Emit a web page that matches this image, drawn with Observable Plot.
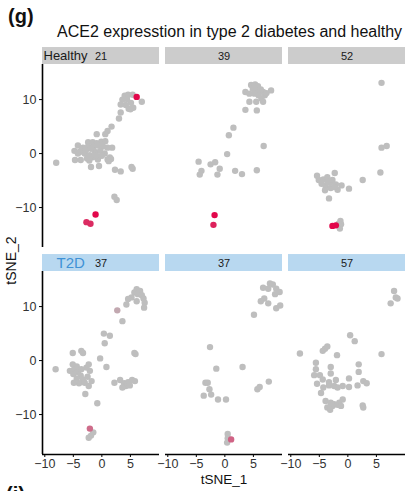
<!DOCTYPE html>
<html>
<head>
<meta charset="utf-8">
<script src="https://cdn.jsdelivr.net/npm/d3@7"></script>
<script src="https://cdn.jsdelivr.net/npm/@observablehq/plot@0.6"></script>
<style>
  body { margin: 0; background: #fff; font-family: "Liberation Sans", Arial, sans-serif; }
  #wrap { position: relative; width: 409px; height: 491px; overflow: hidden; background: #fff; }
  #chart { position: absolute; left: 0; top: 0; }
  #tag { position: absolute; left: 8px; top: 6px; font-size: 20px; line-height: 20px; font-weight: bold; color: #111; z-index: 2; }
  #title { position: absolute; left: 57px; top: 24px; font-size: 16px; line-height: 16px; color: #111; white-space: nowrap; z-index: 2; }
  #next { position: absolute; left: 6px; top: 484px; font-size: 20px; line-height: 20px; font-weight: bold; color: #111; z-index: 2; }
</style>
</head>
<body>
<div id="wrap">
  <div id="tag">(g)</div>
  <div id="title">ACE2 expresstion in type 2 diabetes and healthy</div>
  <div id="chart"></div>
  <div id="next">(i)</div>
</div>
<script>
// ---- facets ----
const cols = [1, 2, 3];
const groups = ["Healthy", "T2D"];
const healthyIds = ["21", "39", "52"];
const t2dIds = ["37", "37", "57"];
const xTicks = [-10, -5, 0, 5];
const yTicks = [-10, 0, 10];

// ---- grey cells [tSNE_1, tSNE_2] ----
const healthy21 = [
  [4.0,10.7],[4.6,10.9],[5.4,10.9],[7.0,9.6],[3.6,10.0],[4.4,10.1],[5.1,9.4],[3.3,9.1],[4.2,9.0],[4.7,8.3],
  [5.5,8.5],[5.0,8.2],[3.3,7.6],[3.0,6.5],[1.7,5.0],[1.0,4.2],[0.6,3.6],
  [-0.9,3.6],[-2.4,2.1],[-1.6,2.1],[-0.9,1.9],[-0.1,2.2],[0.6,2.3],[-4.2,1.5],[-3.3,1.1],[-2.4,1.3],
  [-1.5,1.1],[-0.7,1.5],[0.2,1.3],[1.0,1.1],[1.8,1.1],[-4.8,0.5],[-3.9,0.3],[-3.0,0.0],[-2.1,-0.3],
  [-1.2,0.3],[-0.3,0.5],[0.5,0.0],[1.4,-0.7],[-4.7,-1.2],[-3.7,-1.2],[-2.6,-0.9],[-1.6,-0.7],[-0.7,-1.1],
  [1.0,-1.1],[1.6,-1.0],[-8.0,-1.7],[-1.9,-2.5],[-0.5,-2.3],[2.3,-3.0],[3.3,-3.3],[5.2,-2.5],[5.4,-2.8],
  [2.2,-8.0],[2.6,-8.6],[-3.5,0.8],[-2.8,0.6],[-1.9,0.9],[-1.0,-0.3],[0.0,-0.4],[1.2,-1.4],[-4.2,0.0],[-2.2,-1.3]
];
const healthy39 = [
  [4.6,12.7],[5.3,12.8],[5.8,12.5],[4.9,12.0],[5.7,11.7],[6.3,11.9],[6.7,11.4],[3.6,11.4],[4.3,11.1],[5.2,11.1],
  [5.9,10.8],[7.0,10.8],[7.3,11.2],[8.1,11.7],[6.4,10.2],[5.5,9.6],[4.3,9.6],[6.7,9.6],[3.6,8.1],[5.6,8.0],
  [1.5,4.8],[0.7,3.4],[6.8,1.4],[0.4,-0.1],[-4.6,-1.5],[-4.1,-3.2],[-4.4,-3.9],[-2.5,-2.0],[-1.7,-1.6],
  [-0.9,-2.8],[-1.3,-3.9],[1.8,-3.2],[3.0,-3.8],[5.6,-3.1]
];
const healthy52 = [
  [5.9,13.1],[5.9,1.1],[6.8,1.4],[5.7,-3.5],[2.6,-4.9],[-2.3,-3.6],[-5.4,-4.1],[-5.1,-4.9],
  [-4.3,-4.8],[-3.6,-4.4],[-2.7,-4.9],[-3.1,-5.4],[-2.1,-5.7],[-1.1,-5.9],[-3.9,-6.0],[-3.0,-6.4],
  [-1.8,-6.7],[-4.0,-6.8],[0.2,-6.5],[-3.3,-8.3],[-3.5,-5.2],[-2.4,-6.2],[-4.6,-5.6],
  [-1.3,-12.5],[-1.2,-13.1],[-1.4,-13.9],[-1.6,-13.0]
];
const t2d37a = [
  [6.1,13.2],[6.7,12.9],[5.7,12.6],[6.3,12.3],[7.0,12.1],[5.2,11.7],[7.3,11.5],[4.6,11.4],[7.5,10.7],[6.1,11.0],
  [4.3,10.4],[7.4,9.8],[3.6,7.3],[0.35,5.0],[1.4,4.6],[0.5,3.2],[-3.6,1.8],[-5.1,1.4],[-3.3,1.4],[-0.3,0.4],
  [5.7,1.4],[5.9,1.2],[-8.1,-1.6],[0.8,-1.2],
  [-5.1,-0.7],[-4.4,-1.1],[-4.9,-1.7],[-4.2,-2.1],[-5.0,-2.5],[-3.7,-2.8],[-4.4,-3.3],[-3.3,-3.5],[-2.5,-3.0],
  [-2.1,-1.9],[-2.7,-1.3],[-3.6,-1.6],[-4.0,-4.2],[-3.0,-4.1],[-2.3,-4.7],[-1.8,-3.8],[-2.9,-6.2],[-4.9,-4.1],
  [-5.6,-1.9],[-2.3,-0.7],
  [2.2,-4.1],[3.2,-3.6],[3.9,-4.2],[4.6,-4.0],[5.3,-3.6],[5.8,-3.8],[4.2,-4.7],[4.9,-4.6],[3.6,-5.0],
  [-0.8,-7.9],[-1.5,-13.3],[-1.9,-13.9],[-2.3,-14.3]
];
const t2d37b = [
  [7.9,14.3],[8.4,14.1],[6.7,13.5],[7.6,13.3],[9.0,13.3],[9.6,12.7],[8.8,12.3],[6.9,11.5],[6.3,11.0],[7.6,10.6],
  [9.0,9.7],[9.7,10.2],[5.1,8.5],[-2.6,2.5],[-1.5,-1.5],[3.1,-1.2],[-3.4,-4.1],[-3.0,-4.1],[-2.7,-5.3],
  [-3.7,-6.5],[-2.4,-6.3],[-1.2,-7.2],[0.2,-7.2],[5.7,-5.3],[6.1,-4.9],[7.7,-3.9],
  [0.5,-13.6],[0.5,-14.4],[0.4,-15.2]
];
const t2d57 = [
  [8.1,12.9],[8.4,11.7],[8.7,11.5],[7.5,10.6],[0.4,4.7],[1.2,3.6],[-4.4,1.8],[-4.0,2.2],[-3.6,2.6],[-8.4,1.3],
  [-1.9,1.0],[5.9,1.2],[-5.6,-0.4],[-3.0,-1.2],[1.9,-0.7],[-5.6,-1.6],[-3.0,-2.4],[1.9,-2.1],[-5.9,-2.7],
  [-4.9,-2.7],[-4.4,-3.5],[-5.4,-4.3],[-3.3,-4.0],[-2.1,-3.6],[-0.9,-4.7],[0.2,-3.3],[2.7,-3.8],[3.3,-4.2],
  [1.7,-4.6],[0.2,-4.9],[-3.3,-4.6],[-2.4,-4.7],[-1.8,-5.0],[-4.7,-6.0],[-3.9,-7.5],[-3.0,-7.8],[-2.4,-8.1],
  [-1.5,-7.8],[-0.9,-7.2],[-3.6,-8.7],[-2.7,-8.4],[-1.8,-8.2],[-1.2,-8.4],[-3.1,-9.1],[2.6,-8.3],[2.7,-8.7],[-4.3,-5.0]
];

// ---- ACE2-expressing cells [tSNE_1, tSNE_2, relative expression] ----
const healthy21Ace2 = [[6.1,10.5,1.0],[-1.1,-11.3,1.0],[-2.7,-12.7,0.8],[-2.0,-13.0,0.8]];
const healthy39Ace2 = [[-1.8,-11.4,1.0],[-2.0,-13.2,0.85]];
const healthy52Ace2 = [[-2.7,-13.4,1.0],[-2.1,-13.3,1.0]];
const t2d37aAce2 = [[2.7,9.3,0.12],[-2.1,-12.6,0.45]];
const t2d37bAce2 = [[1.1,-14.6,0.5]];
const t2d57Ace2 = [];

const panels = [
  ["Healthy", 1, healthy21, healthy21Ace2],
  ["Healthy", 2, healthy39, healthy39Ace2],
  ["Healthy", 3, healthy52, healthy52Ace2],
  ["T2D", 1, t2d37a, t2d37aAce2],
  ["T2D", 2, t2d37b, t2d37bAce2],
  ["T2D", 3, t2d57, t2d57Ace2]
];
const cells = [];
for (const [group, col, grey] of panels) for (const [x, y] of grey) cells.push({group, col, x, y, expr: 0});
for (const [group, col, , ace] of panels) for (const [x, y, e] of ace) cells.push({group, col, x, y, expr: e});

const strips = groups.flatMap(g => cols.map((c, i) => ({group: g, col: c, id: (g === "Healthy" ? healthyIds : t2dIds)[i]})));
const xDomain = [-10.4, 10.1];
const yDomain = [-17.4, 16.5];
const stripTop = yDomain[1] + 17 / 5.41;
const stripMid = yDomain[1] + 8.5 / 5.41;
const fmt = d => d < 0 ? "\u2212" + Math.abs(d) : String(d);

const chart = Plot.plot({
  width: 409,
  height: 491,
  marginLeft: 41,
  marginRight: 4,
  marginTop: 64,
  marginBottom: 36,
  style: {fontFamily: "'Liberation Sans', Arial, sans-serif", background: "white", color: "black"},
  fx: {domain: cols, paddingInner: 0.05, axis: null},
  fy: {domain: groups, paddingInner: 0.1157, axis: null},
  x: {domain: xDomain},
  y: {domain: yDomain},
  color: {type: "linear", domain: [0, 1], range: ["#bebebe", "#e2074b"]},
  marks: [
    Plot.rect(strips.filter(d => d.group === "Healthy"), {fx: "col", fy: "group", x1: xDomain[0], x2: xDomain[1], y1: yDomain[1], y2: stripTop, fill: "#cccccc"}),
    Plot.rect(strips.filter(d => d.group === "T2D"), {fx: "col", fy: "group", x1: xDomain[0], x2: xDomain[1], y1: yDomain[1], y2: stripTop, fill: "#b8d8f0"}),
    Plot.text(strips, {fx: "col", fy: "group", x: (xDomain[0] + xDomain[1]) / 2, y: stripMid, text: "id", fontSize: 11, fill: "#1a1a1a"}),
    Plot.text(strips.filter(d => d.group === "Healthy" && d.col === 1), {fx: "col", fy: "group", x: xDomain[0], y: stripMid, dx: 1, text: "group", textAnchor: "start", fontSize: 13, fill: "#1a1a1a"}),
    Plot.text(strips.filter(d => d.group === "T2D" && d.col === 1), {fx: "col", fy: "group", x: xDomain[0], y: stripMid, dx: 14, text: "group", textAnchor: "start", fontSize: 15, fill: "#3f92d6"}),
    Plot.dot(cells, {fx: "col", fy: "group", x: "x", y: "y", fill: "expr", r: 3.2}),
    Plot.ruleX(groups.map(g => ({group: g, col: 1})), {fx: "col", fy: "group", x: xDomain[0], stroke: "black", strokeWidth: 1.6}),
    Plot.ruleY(cols.map(c => ({group: "T2D", col: c})), {fx: "col", fy: "group", y: yDomain[0], stroke: "black", strokeWidth: 1.6}),
    Plot.axisX({ticks: xTicks, tickSize: 3, tickPadding: 2, fontSize: 12.5, label: null, stroke: "black", fill: "#333", tickFormat: fmt}),
    Plot.axisY({ticks: yTicks, tickSize: 3, tickPadding: 3, fontSize: 12.5, label: null, stroke: "black", fill: "#333", tickFormat: fmt}),
    Plot.text([{group: "T2D", col: 2}], {fx: "col", fy: "group", frameAnchor: "bottom", dy: 29, text: () => "tSNE_1", fontSize: 13.5, fill: "#111"}),
    Plot.text([{group: "Healthy", col: 1}], {fx: "col", fy: "group", frameAnchor: "bottom-left", dx: -27, dy: 13, rotate: -90, textAnchor: "middle", text: () => "tSNE_2", fontSize: 14, fill: "#111"})
  ]
});
document.getElementById("chart").appendChild(chart);
</script>
</body>
</html>
